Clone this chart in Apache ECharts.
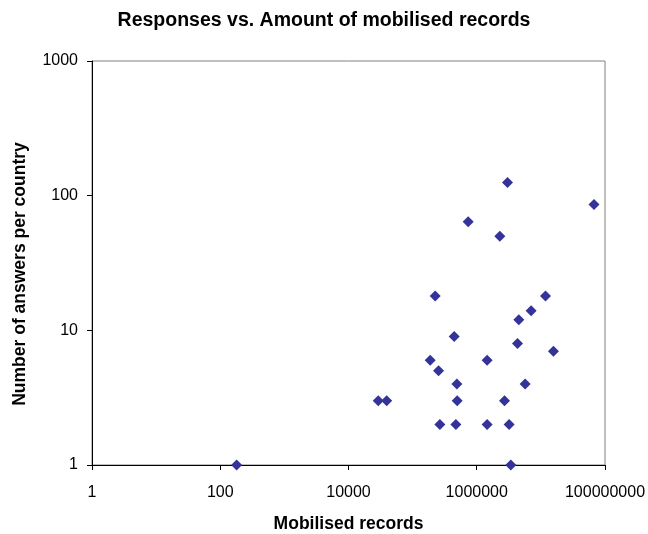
<!DOCTYPE html>
<html>
<head>
<meta charset="utf-8">
<script src="https://cdn.jsdelivr.net/npm/echarts@6/dist/echarts.min.js"></script>
<style>
  html, body { margin: 0; padding: 0; background: #fff; }
  #chart { width: 648px; height: 534px; }
</style>
</head>
<body>
<div id="chart"></div>
<script>
// Mobilised records per country (x) and number of answers received (y)
const mobilisedRecords = [
  180, 29100, 39400, 188000, 225000, 254000, 266000, 445000, 473000, 490000,
  495000, 735000, 1450000, 1450000, 2290000, 2710000, 3020000, 3200000, 3400000,
  4320000, 4530000, 5680000, 7040000, 11800000, 15700000, 67400000
];
const answersPerCountry = [
  1, 3, 3, 6, 18, 5, 2, 9, 2, 4,
  3, 64, 6, 2, 50, 3, 125, 2, 1,
  8, 12, 4, 14, 18, 7, 86
];
const xTickLabels = ['1', '100', '10000', '1000000', '100000000'];
const yTickLabels = ['1', '10', '100', '1000'];

const points = mobilisedRecords.map((x, i) => [x, answersPerCountry[i]]);
const font = '"Liberation Sans", Arial, sans-serif';

const chart = echarts.init(document.getElementById('chart'), null, { renderer: 'canvas' });
chart.setOption({
  animation: false,
  backgroundColor: '#ffffff',
  title: {
    text: 'Responses vs. Amount of mobilised records',
    left: 'center',
    top: 6,
    textStyle: { fontFamily: font, fontSize: 19.5, fontWeight: 'bold', color: '#000' }
  },
  grid: {
    left: 92, top: 61, right: 43, bottom: 69,
    containLabel: false,
    outerBoundsMode: 'none',
    show: true, borderColor: '#808080', borderWidth: 1, backgroundColor: '#fff'
  },
  xAxis: {
    type: 'log',
    logBase: 100,
    min: 1,
    max: 100000000,
    name: 'Mobilised records',
    nameLocation: 'middle',
    nameGap: 50,
    nameTextStyle: { fontFamily: font, fontSize: 17.5, fontWeight: 'bold', color: '#000' },
    axisLine: { show: true, lineStyle: { color: '#000', width: 1 } },
    axisTick: { show: true, inside: false, length: 5, lineStyle: { color: '#000' } },
    minorTick: { show: false },
    splitLine: { show: false },
    axisLabel: {
      fontFamily: font, fontSize: 16, color: '#000', margin: 20,
      formatter: v => xTickLabels[Math.round(Math.log10(v) / 2)] ?? String(Math.round(v))
    }
  },
  yAxis: {
    type: 'log',
    logBase: 10,
    min: 1,
    max: 1000,
    name: 'Number of answers per country',
    nameLocation: 'middle',
    nameGap: 63,
    nameRotate: 90,
    nameTextStyle: {
      fontFamily: font, fontSize: 17.5, fontWeight: 'bold', color: '#000',
      padding: [0, 22, 0, 0]
    },
    axisLine: { show: true, lineStyle: { color: '#000', width: 1 } },
    axisTick: { show: true, inside: false, length: 5, lineStyle: { color: '#000' } },
    minorTick: { show: false },
    splitLine: { show: false },
    axisLabel: {
      fontFamily: font, fontSize: 16, color: '#000', margin: 14,
      formatter: v => yTickLabels[Math.round(Math.log10(v))] ?? String(Math.round(v))
    }
  },
  series: [{
    type: 'scatter',
    data: points,
    symbol: 'diamond',
    symbolSize: [11, 11],
    clip: false,
    itemStyle: { color: '#333399', opacity: 1 }
  }]
});
</script>
</body>
</html>
